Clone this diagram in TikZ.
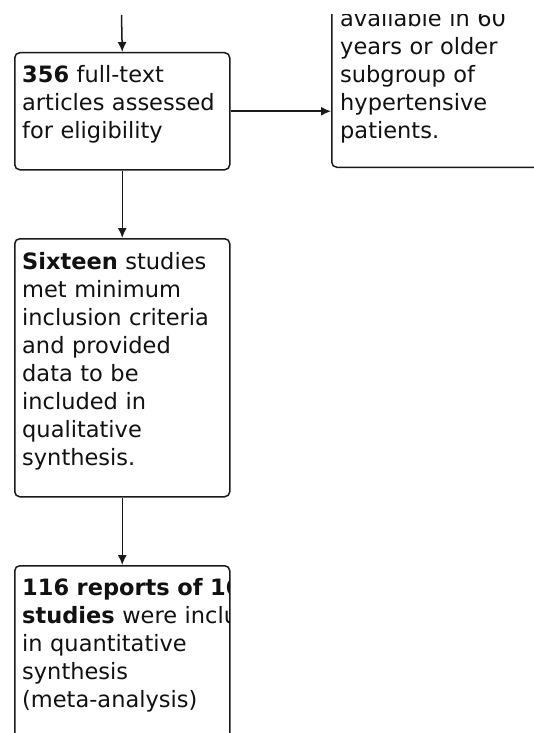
\documentclass[tikz,border=0pt]{standalone}
\usepackage{fontspec}
\setmainfont{DejaVu Sans}
\usetikzlibrary{arrows.meta}
\definecolor{linec}{HTML}{1A1A1A}
\definecolor{txtc}{HTML}{111111}
\begin{document}
\begin{tikzpicture}[x=1pt,y=-1pt,
  box/.style={draw=linec, line width=1.5pt, rounded corners=5pt, inner sep=0pt, minimum width=215pt},
  txt/.style={anchor=base west, text width=320pt, align=left, inner sep=0pt, font=\fontsize{22.5}{28}\selectfont, text=txtc},
  arr/.style={draw=linec, line width=1.5pt, -{Latex[length=10pt,width=9pt]}}]
\useasboundingbox (0,0) rectangle (534,733);
\fill[white] (0,0) rectangle (534,733);
\begin{scope}
\clip (0,15) rectangle (534,733);
% boxes
\node[box, anchor=north west, minimum height=117pt] (b1) at (14,52) {};
\node[box, anchor=south west, minimum width=320pt, minimum height=260pt] (b2) at (331,168) {};
\node[box, anchor=north west, minimum height=258pt] (b3) at (14,238) {};
\node[box, anchor=north west, minimum height=260pt] (b4) at (14,565) {};
\coordinate (top) at (121.5,15);
% texts
\node[txt] (t1) at (22,83) {\textbf{356} full-text\\articles assessed\\for eligibility};
\node[txt] (t2) at (340,27) {available in 60\\years or older\\subgroup of\\hypertensive\\patients.};
\node[txt] (t3) at (22,269) {\textbf{Sixteen} studies\\met minimum\\inclusion criteria\\and provided\\data to be\\included in\\qualitative\\synthesis.};
\begin{scope}
\clip (b4.north west) rectangle ([xshift=-1pt]b4.south east);
\node[txt] (t4) at (22,595) {\textbf{116 reports of 16}\\\textbf{studies} were included\\in quantitative\\synthesis\\(meta-analysis)};
\end{scope}
% connectors
\draw[arr] (top) -- (b1.north);
\draw[arr] (b1.east) -- (b1.east -| b2.west);
\draw[arr] (b1.south) -- (b3.north);
\draw[arr] (b3.south) -- (b4.north);
\end{scope}
\end{tikzpicture}
\end{document}
